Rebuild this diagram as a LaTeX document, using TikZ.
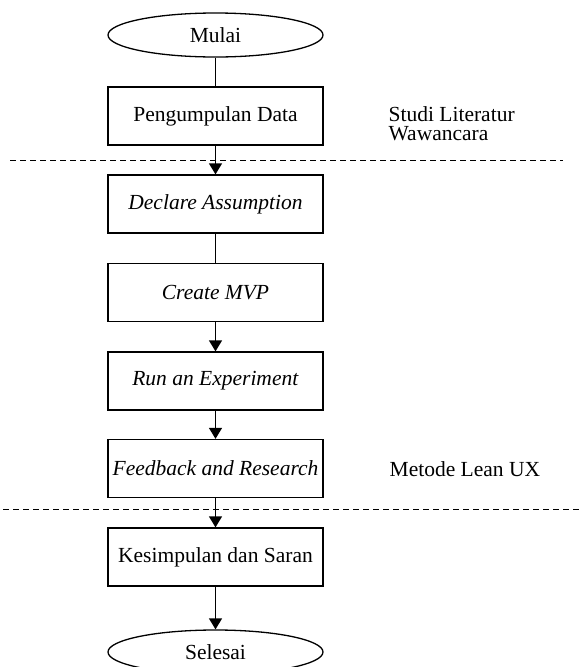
\documentclass[tikz,border=0pt]{standalone}
\usepackage{fontspec}
\setmainfont{Liberation Serif}
\usetikzlibrary{shapes.geometric,arrows.meta}

\begin{document}
\begin{tikzpicture}[x=1pt, y=-1pt, line width=1.3pt,
    proses/.style={draw, rectangle, minimum width=215pt, minimum height=58pt},
    terminal/.style={draw, ellipse, minimum width=215pt, minimum height=44pt},
    panah/.style={-{Triangle[width=13pt,length=11pt]}},
    batas/.style={dash pattern=on 6pt off 4pt, line width=1pt}]
\tikzset{every node/.style={font=\fontsize{21.5}{19.5}\selectfont, inner sep=0pt}}
\useasboundingbox (0,0) rectangle (579,667);
% alur utama
\node[terminal] (mulai) at (215.5,35) {Mulai};
\node[proses] (data) at (215.5,116) {Pengumpulan Data};
\node[proses] (asumsi) at (215.5,204) {\textit{Declare Assumption}};
\node[proses] (mvp) at (215.5,292.5) {\textit{Create MVP}};
\node[proses] (eksperimen) at (215.5,381) {\textit{Run an Experiment}};
\node[proses] (feedback) at (215.5,468.5) {\textit{Feedback and Research}};
\node[proses] (kesimpulan) at (215.5,557) {Kesimpulan dan Saran};
\node[terminal] (selesai) at (215.5,652) {Selesai};
% keterangan tahap
\node[anchor=base west, align=left] (sumber) at (388,140.5) {Studi Literatur\\Wawancara};
\node[anchor=base west] (metode) at (389,476) {Metode Lean UX};
% garis batas
\coordinate (batas1a) at (10,160);
\coordinate (batas1b) at (563,160);
\coordinate (batas2a) at (3,509);
\coordinate (batas2b) at (579,509);
\draw[batas] (batas1a) -- (batas1b);
\draw[batas] (batas2a) -- (batas2b);
% penghubung
\draw (mulai) -- (data);
\draw[panah] (data) -- (asumsi);
\draw (asumsi) -- (mvp);
\draw[panah] (mvp) -- (eksperimen);
\draw[panah] (eksperimen) -- (feedback);
\draw[panah] (feedback) -- (kesimpulan);
\draw[panah] (kesimpulan) -- (selesai);
\end{tikzpicture}
\end{document}
